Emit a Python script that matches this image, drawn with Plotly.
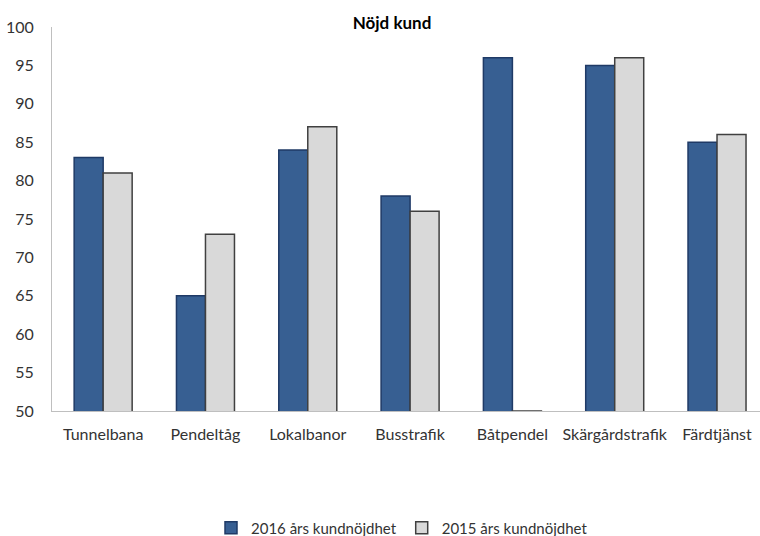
import plotly.graph_objects as go

categories = ["Tunnelbana", "Pendeltåg", "Lokalbanor", "Busstrafik", "Båtpendel", "Skärgårdstrafik", "Färdtjänst"]
values_2016 = [83, 65, 84, 78, 96, 95, 85]
values_2015 = [81, 73, 87, 76, 50, 96, 86]
series_names = ["2016 års kundnöjdhet", "2015 års kundnöjdhet"]
y_ticks = [50, 55, 60, 65, 70, 75, 80, 85, 90, 95, 100]

FONT = "Lato, 'Open Sans', sans-serif"
TXT = "#333333"

fig = go.Figure()
fig.add_trace(go.Bar(
    x=categories, y=values_2016, name=series_names[0],
    marker=dict(color="#375F92", line=dict(color="#1F3A66", width=1.5)),
))
fig.add_trace(go.Bar(
    x=categories, y=values_2015, name=series_names[1],
    marker=dict(color="#D9D9D9", line=dict(color="#404040", width=1.5)),
))

fig.update_layout(
    width=760, height=536,
    margin=dict(l=52, r=0, t=27, b=125, autoexpand=False),
    paper_bgcolor="white", plot_bgcolor="white",
    barmode="group", bargap=0.433, bargroupgap=0,
    font=dict(family=FONT, size=16, color=TXT),
    title=dict(text="<b>Nöjd kund</b>", x=392/760, xref="container", xanchor="center",
               y=1 - 23/536, yref="container", yanchor="middle",
               font=dict(family=FONT, size=17, color="#000000")),
    xaxis=dict(range=[-0.5, 6.42], showline=True, linecolor="#BFBFBF", linewidth=1,
               ticks="", showgrid=False, tickfont=dict(size=16, color=TXT),
               ticklabelstandoff=9),
    yaxis=dict(range=[50, 100], tickvals=y_ticks, showline=True, linecolor="#BFBFBF",
               linewidth=1, ticks="", showgrid=False, zeroline=False,
               tickfont=dict(size=16, color=TXT), ticklabelstandoff=14),
    legend=dict(orientation="h", x=(402-52)/708, xanchor="center", y=-(528-411)/384,
                yanchor="middle", font=dict(size=15, color=TXT),
                itemwidth=30, tracegroupgap=0),
    showlegend=True,
)

fig.write_html("out.html")
